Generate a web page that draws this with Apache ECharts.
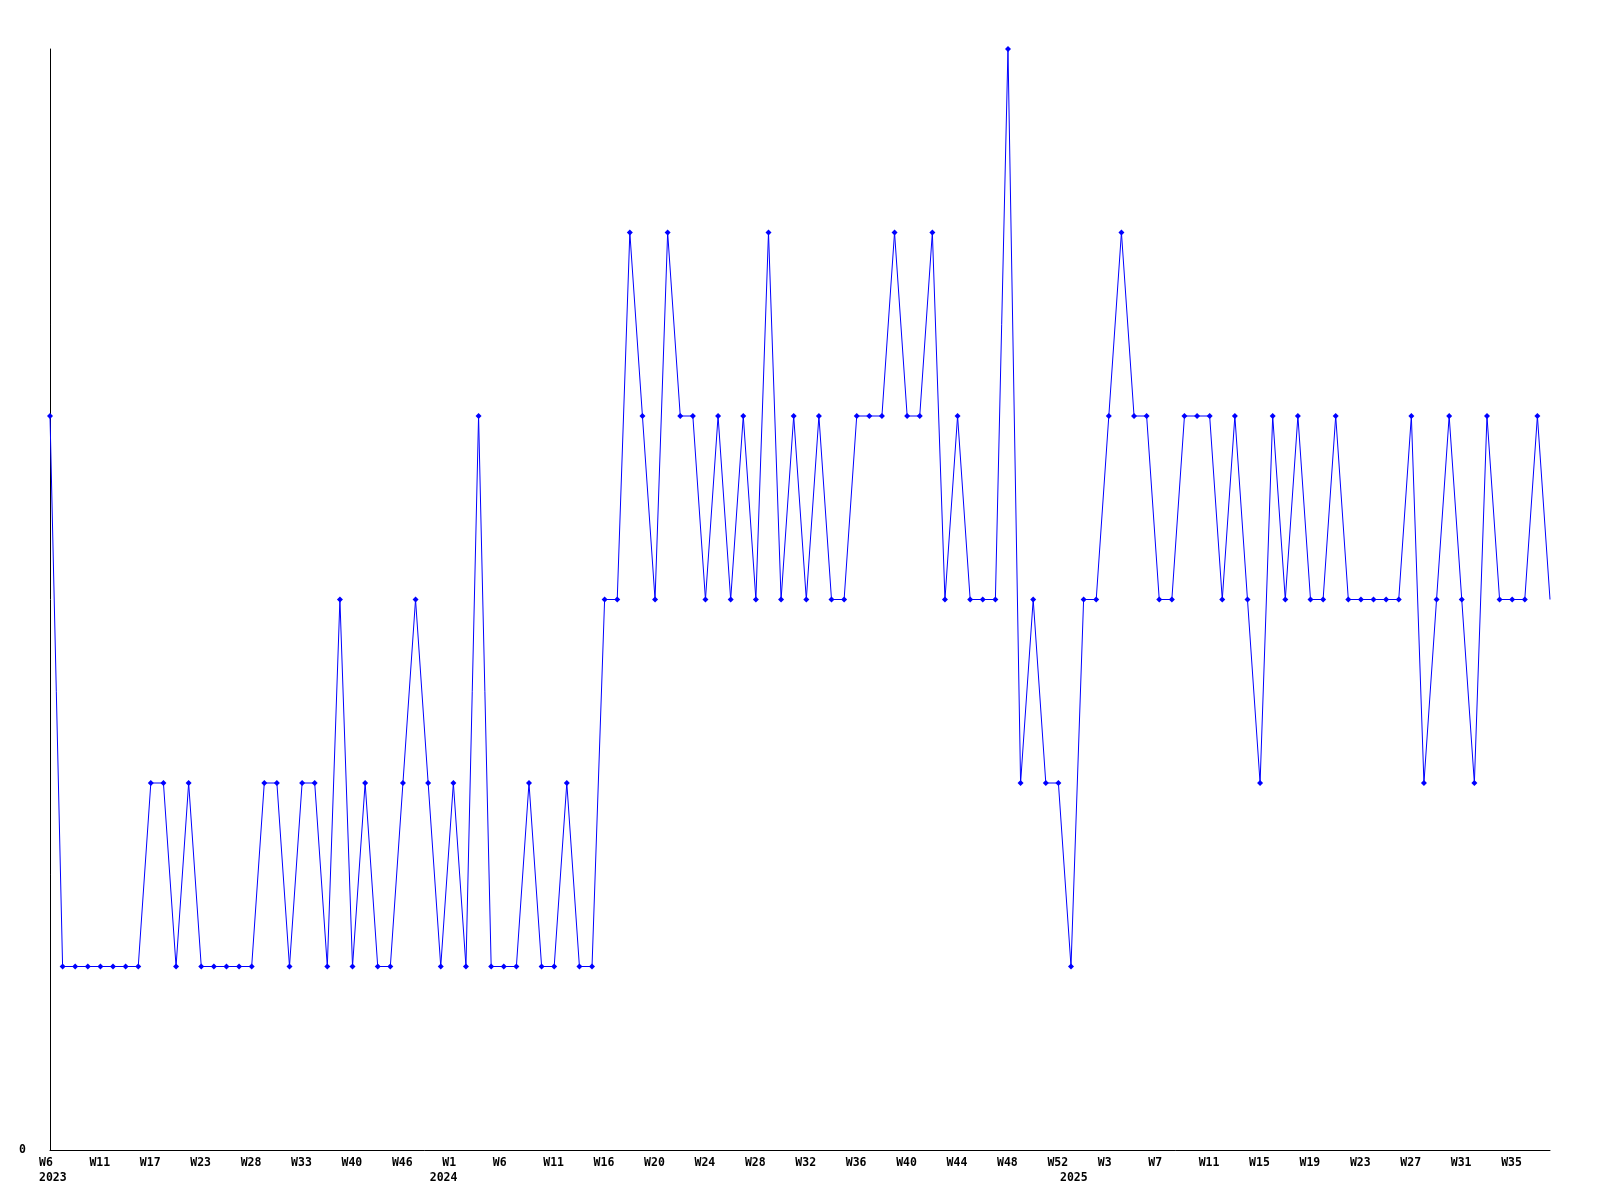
<!DOCTYPE html>
<html>
<head>
<meta charset="utf-8">
<script src="https://cdn.jsdelivr.net/npm/echarts@6/dist/echarts.min.js"></script>
<style>
html,body{margin:0;padding:0;background:#fff;}
#chart{width:1600px;height:1200px;}
</style>
</head>
<body>
<div id="chart"></div>
<script>
// Week categories (one per data point)
const weeks = [
  'W6','W7','W8','W10','W11','W12','W14','W15','W17','W18','W20','W21','W23',
  'W24','W25','W27','W28','W29','W30','W32','W33','W35','W36','W38','W40',
  'W41','W43','W44','W46','W47','W49','W51',
  'W1','W2','W3','W5','W6','W7','W8','W10','W11','W12','W13','W15','W16',
  'W17','W18','W19','W20','W21','W22','W23','W24','W25','W26','W27','W28',
  'W29','W30','W31','W32','W33','W34','W35','W36','W37','W38','W39','W40',
  'W41','W42','W43','W44','W45','W46','W47','W48','W49','W50','W51','W52',
  'W0','W1','W2','W3','W4','W5','W6','W7','W8','W9','W10','W11','W12','W13',
  'W14','W15','W16','W17','W18','W19','W20','W21','W22','W23','W24','W25',
  'W26','W27','W28','W29','W30','W31','W32','W33','W34','W35','W36','W37','W38'
];
// Series values
const values = [
  4,1,1,1,1,1,1,1,2,2,1,2,1,1,1,1,1,2,2,1,
  2,2,1,3,1,2,1,1,2,3,2,1,2,1,4,1,1,1,2,1,
  1,2,1,1,3,3,5,4,3,5,4,4,3,4,3,4,3,5,3,4,
  3,4,3,3,4,4,4,5,4,4,5,3,4,3,3,3,6,2,3,2,
  2,1,3,3,4,5,4,4,3,3,4,4,4,3,4,3,2,4,3,4,
  3,3,4,3,3,3,3,3,4,2,3,4,3,2,4,3,3,3,4,3
];
// Year labels and the category index where each appears
const years = ['2023','2024','2025'];
const yearAt = [0, 31, 81];
// Y tick labels
const yTickLabels = ['0'];

const FONT = 'DejaVu Sans Mono';
const labelRich = {a: {width: 22, align: 'left', fontFamily: FONT, fontWeight: 'bold', fontSize: 11.5, color: '#000'}};
const chart = echarts.init(document.getElementById('chart'), null, {renderer:'canvas'});
const seriesData = values.map((v, i) => i === values.length - 1 ? {value: v, symbol: 'none'} : v);

chart.setOption({
  animation: false,
  backgroundColor: '#ffffff',
  grid: {left: 50, right: 50, top: 49, bottom: 50, containLabel: false},
  xAxis: [
    {
      type: 'category',
      data: weeks,
      boundaryGap: false,
      axisLine: {show: true, lineStyle: {color: '#000', width: 1}},
      axisTick: {show: false},
      splitLine: {show: false},
      axisLabel: {
        interval: 3,
        margin: 7,
        color: '#000',
        fontFamily: FONT,
        fontWeight: 'bold',
        fontSize: 11.5,
        formatter: (v) => '{a|' + v + '}',
        rich: labelRich
      }
    },
    {
      type: 'category',
      data: weeks,
      boundaryGap: false,
      position: 'bottom',
      offset: 15,
      axisLine: {show: false},
      axisTick: {show: false},
      splitLine: {show: false},
      axisLabel: {
        interval: (idx) => yearAt.indexOf(idx) >= 0,
        formatter: (val, idx) => {
          const k = yearAt.indexOf(idx);
          return k >= 0 ? '{a|' + years[k] + '}' : '';
        },
        margin: 7,
        color: '#000',
        fontFamily: FONT,
        fontWeight: 'bold',
        fontSize: 11.5,
        rich: labelRich
      }
    }
  ],
  yAxis: {
    type: 'value',
    min: 0,
    max: 6,
    interval: 1,
    axisLine: {show: true, lineStyle: {color: '#000', width: 1}},
    axisTick: {show: false},
    splitLine: {show: false},
    axisLabel: {
      margin: 24,
      color: '#000',
      fontFamily: FONT,
      fontWeight: 'bold',
      fontSize: 11.5,
      formatter: (v) => yTickLabels.indexOf(String(v)) >= 0 ? String(v) : ''
    }
  },
  series: [{
    type: 'line',
    xAxisIndex: 0,
    data: seriesData,
    symbol: 'diamond',
    symbolSize: 6,
    showAllSymbol: true,
    lineStyle: {color: '#0000ff', width: 1},
    itemStyle: {color: '#0000ff'},
    emphasis: {disabled: true}
  }]
});
</script>
</body>
</html>
